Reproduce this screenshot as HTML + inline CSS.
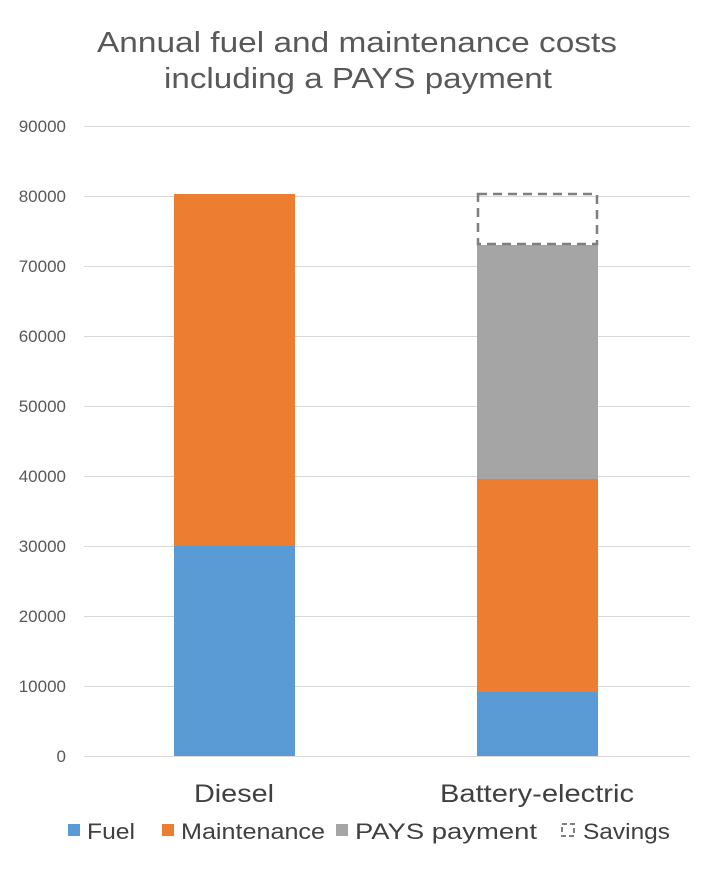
<!DOCTYPE html>
<html><head><meta charset="utf-8"><style>
body{margin:0;background:#fff;}
</style></head><body>
<svg width="716" height="884" xmlns="http://www.w3.org/2000/svg" font-family="Liberation Sans, Arial, sans-serif">
<rect width="716" height="884" fill="#fff"/>
<text x="97" y="52" textLength="520" lengthAdjust="spacingAndGlyphs" font-size="29" fill="#595959">Annual fuel and maintenance costs</text>
<text x="164" y="88" textLength="388" lengthAdjust="spacingAndGlyphs" font-size="29" fill="#595959">including a PAYS payment</text>
<g stroke="#d9d9d9" stroke-width="1">
<line x1="84" x2="690" y1="126.5" y2="126.5"/><line x1="84" x2="690" y1="196.5" y2="196.5"/>
<line x1="84" x2="690" y1="266.5" y2="266.5"/><line x1="84" x2="690" y1="336.5" y2="336.5"/>
<line x1="84" x2="690" y1="406.5" y2="406.5"/><line x1="84" x2="690" y1="476.5" y2="476.5"/>
<line x1="84" x2="690" y1="546.5" y2="546.5"/><line x1="84" x2="690" y1="616.5" y2="616.5"/>
<line x1="84" x2="690" y1="686.5" y2="686.5"/><line x1="84" x2="690" y1="756.5" y2="756.5"/>
</g>
<g font-size="17" fill="#595959" text-anchor="end">
<text x="66" y="132">90000</text><text x="66" y="202">80000</text><text x="66" y="272">70000</text>
<text x="66" y="342">60000</text><text x="66" y="412">50000</text><text x="66" y="482">40000</text>
<text x="66" y="552">30000</text><text x="66" y="622">20000</text><text x="66" y="692">10000</text>
<text x="66" y="762">0</text>
</g>
<rect x="174" y="546" width="121" height="210" fill="#5b9bd5"/>
<rect x="174" y="194" width="121" height="352" fill="#ed7d31"/>
<rect x="477" y="692" width="121" height="64" fill="#5b9bd5"/>
<rect x="477" y="479" width="121" height="213" fill="#ed7d31"/>
<rect x="477" y="245" width="121" height="234" fill="#a5a5a5"/>
<rect x="478" y="194" width="119" height="50" fill="none" stroke="#7f7f7f" stroke-width="2.5" stroke-dasharray="9,6"/>
<g font-size="25" fill="#404040">
<text x="194" y="802" textLength="80" lengthAdjust="spacingAndGlyphs">Diesel</text>
<text x="440" y="802" textLength="194" lengthAdjust="spacingAndGlyphs">Battery-electric</text>
</g>
<g font-size="22" fill="#404040">
<rect x="68" y="824" width="12" height="12" fill="#5b9bd5"/><text x="87" y="839" textLength="48" lengthAdjust="spacingAndGlyphs">Fuel</text>
<rect x="162" y="824" width="12" height="12" fill="#ed7d31"/><text x="181" y="839" textLength="144" lengthAdjust="spacingAndGlyphs">Maintenance</text>
<rect x="336" y="824" width="12" height="12" fill="#a5a5a5"/><text x="355" y="839" textLength="182" lengthAdjust="spacingAndGlyphs">PAYS payment</text>
<rect x="562" y="824" width="12" height="12" fill="none" stroke="#7f7f7f" stroke-width="2" stroke-dasharray="5,3"/><text x="583" y="839" textLength="87" lengthAdjust="spacingAndGlyphs">Savings</text>
</g>
</svg>
</body></html>
